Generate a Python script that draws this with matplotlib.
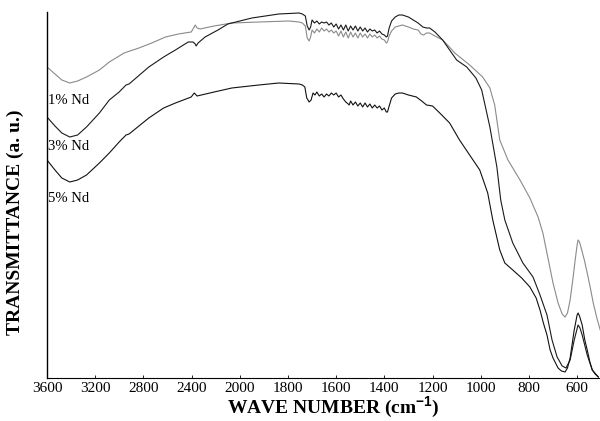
import numpy as np
import matplotlib
matplotlib.use("Agg")
import matplotlib.pyplot as plt

plt.rcParams["font.family"] = "Liberation Serif"
plt.rcParams["mathtext.fontset"] = "custom"
plt.rcParams["mathtext.bf"] = "Liberation Sans:bold"
plt.rcParams["mathtext.rm"] = "Liberation Serif:bold"

# ------------------------------------------------------------------
# FTIR spectra (wavenumber cm-1, transmittance a.u.)
# ------------------------------------------------------------------
wn_1 = [3600, 3534, 3477, 3411, 3346, 3272, 3165, 3083, 3001, 2960, 2936, 2837,
        2731, 2616, 2509, 2403, 2378, 2370, 2354, 2330, 2213, 2066, 1921, 1796,
        1754, 1740, 1728, 1720, 1712, 1706, 1700, 1690, 1680, 1670, 1660, 1650,
        1640, 1630, 1620, 1610, 1600, 1590, 1580, 1570, 1560, 1550, 1540, 1530,
        1520, 1510, 1500, 1490, 1480, 1470, 1460, 1450, 1440, 1430, 1420, 1410,
        1400, 1392, 1387, 1380, 1370, 1355, 1340, 1325, 1300, 1280, 1260, 1248,
        1237, 1225, 1212, 1190, 1158, 1130, 1108, 1087, 1046, 992, 962, 942,
        921, 887, 837, 796, 762, 742, 721, 700, 679, 662, 650, 640, 629, 618,
        608, 600, 596, 590, 583, 570, 558, 545, 533, 518, 504]
t_1 = [311, 304, 298, 295, 297, 301, 308, 316, 322, 325, 326, 330,
       335, 341, 344, 346, 351, 353, 350, 349, 352, 355, 356, 357,
       356, 355, 352, 340, 337, 341, 348, 345, 349, 346, 350, 347,
       349, 346, 348, 345, 347, 342, 347, 341, 346, 340, 346, 341,
       345, 340, 345, 341, 344, 340, 344, 341, 343, 340, 342, 339,
       338, 335, 336, 342, 347, 351, 352, 353, 351, 349, 348, 344,
       343, 345, 345, 342, 338, 331, 325, 321, 313, 301, 290, 273,
       238, 218, 198, 180, 161, 145, 120, 95, 75, 64, 61, 65, 78, 98,
       118, 133, 138, 136, 130, 118, 105, 90, 75, 60, 48]

wn_3 = [3600, 3534, 3477, 3411, 3346, 3272, 3165, 3083, 3001, 2944, 2919, 2755,
        2632, 2534, 2428, 2387, 2370, 2362, 2346, 2288, 2181, 2099, 1950, 1838,
        1754, 1740, 1728, 1720, 1712, 1706, 1700, 1690, 1680, 1670, 1660, 1650,
        1640, 1630, 1620, 1610, 1600, 1590, 1580, 1570, 1560, 1550, 1540, 1530,
        1520, 1510, 1500, 1490, 1480, 1470, 1460, 1450, 1440, 1430, 1420, 1410,
        1400, 1392, 1387, 1380, 1370, 1355, 1340, 1325, 1300, 1280, 1260, 1250,
        1240, 1225, 1212, 1190, 1170, 1158, 1129, 1100, 1058, 1020, 996, 962,
        933, 917, 900, 867, 825, 783, 754, 725, 704, 683, 662, 646, 629, 612,
        596, 588, 579, 558, 537, 512]
t_3 = [261, 252, 245, 241, 243, 251, 265, 278, 286, 293, 294, 311,
       321, 328, 336, 336, 334, 332, 335, 341, 348, 354, 360, 364,
       365, 364, 362, 352, 348, 351, 358, 355, 357, 354, 356, 355,
       356, 353, 355, 351, 354, 349, 353, 348, 353, 347, 352, 348,
       352, 347, 351, 347, 350, 346, 349, 347, 348, 345, 347, 344,
       343, 341, 342, 350, 357, 361, 363, 363, 361, 358, 355, 353,
       351, 350, 350, 346, 341, 338, 328, 318, 311, 300, 288, 251,
       211, 178, 158, 135, 115, 101, 83, 63, 38, 21, 12, 10, 18, 38,
       53, 50, 43, 23, 8, 1]

wn_5 = [3600, 3534, 3477, 3411, 3346, 3272, 3165, 3083, 3001, 2944, 2919, 2755,
        2632, 2534, 2403, 2378, 2354, 2213, 2066, 1921, 1838, 1754, 1740, 1730,
        1722, 1712, 1704, 1696, 1688, 1680, 1670, 1660, 1650, 1640, 1630, 1620,
        1610, 1600, 1590, 1580, 1570, 1560, 1550, 1546, 1540, 1530, 1520, 1510,
        1500, 1490, 1480, 1470, 1460, 1450, 1440, 1430, 1420, 1410, 1400, 1392,
        1387, 1380, 1370, 1355, 1340, 1325, 1300, 1267, 1245, 1225, 1200, 1170,
        1129, 1088, 1046, 1004, 971, 950, 921, 900, 867, 830, 796, 770, 754,
        740, 725, 712, 700, 679, 665, 650, 640, 629, 612, 600, 596, 590, 579,
        568, 558, 547, 537, 525, 512]
t_5 = [218, 208, 200, 196, 198, 203, 215, 225, 236, 243, 244, 260,
       270, 275, 281, 285, 282, 286, 290, 293, 295, 294, 293, 291,
       280, 276, 278, 285, 283, 286, 282, 284, 281, 284, 282, 285,
       283, 285, 281, 283, 279, 276, 274, 273, 277, 273, 276, 272,
       275, 271, 275, 271, 274, 270, 273, 270, 272, 268, 270, 266,
       266, 272, 280, 284, 285, 285, 283, 281, 277, 273, 272, 265,
       255, 238, 223, 208, 185, 158, 128, 115, 108, 100, 91, 80, 68,
       55, 43, 28, 20, 10, 7, 6, 10, 20, 48, 63, 65, 62, 53,
       38, 28, 16, 8, 4, 1]

labels = ["1% Nd", "3% Nd", "5% Nd"]
tick_wn = [3600, 3200, 2800, 2400, 2000, 1800, 1600, 1400, 1200, 1000, 800, 600]


# x axis is compressed by 2 above 2000 cm-1 (usual FTIR scale change)
def fwd(x):
    x = np.asarray(x, dtype=float)
    return np.where(x > 2000, 2000 + (x - 2000) / 2.0, x)


def inv(u):
    u = np.asarray(u, dtype=float)
    return np.where(u > 2000, 2000 + (u - 2000) * 2.0, u)


fig = plt.figure(figsize=(6.0, 4.21), dpi=100)
ax = fig.add_axes([47 / 600, 43 / 421, 553 / 600, 366 / 421])

ax.plot(wn_1, t_1, color="#8a8a8a", lw=0.8)
ax.plot(wn_3, t_3, color="#1a1a1a", lw=0.8)
ax.plot(wn_5, t_5, color="#111111", lw=0.8)

ax.set_xscale("function", functions=(fwd, inv))
ax.set_xlim(3600, 505)
ax.set_ylim(0, 366)
ax.set_xticks(tick_wn)
ax.set_xticklabels([str(t) for t in tick_wn], fontsize=11)
ax.set_yticks([])
ax.tick_params(axis="x", direction="in", length=2, width=0.6, pad=3)
ax.spines[["top", "right"]].set_visible(False)
ax.spines["left"].set_linewidth(1.0)
ax.spines["bottom"].set_linewidth(0.8)

for lab, y in zip(labels, [278, 231, 179]):
    ax.text(3592, y, lab, fontsize=10.5, va="center", ha="left")

fig.text(333 / 600, 1 - 407 / 421, r"WAVE NUMBER (cm$^{\mathbf{-1}}$)",
         fontsize=14, fontweight="bold", ha="center", va="center")
fig.text(15 / 600, 1 - 222 / 421, "TRANSMITTANCE (a. u.)", rotation=90,
         fontsize=14, fontweight="bold", ha="center", va="center")

fig.savefig("out.png", dpi=100)
